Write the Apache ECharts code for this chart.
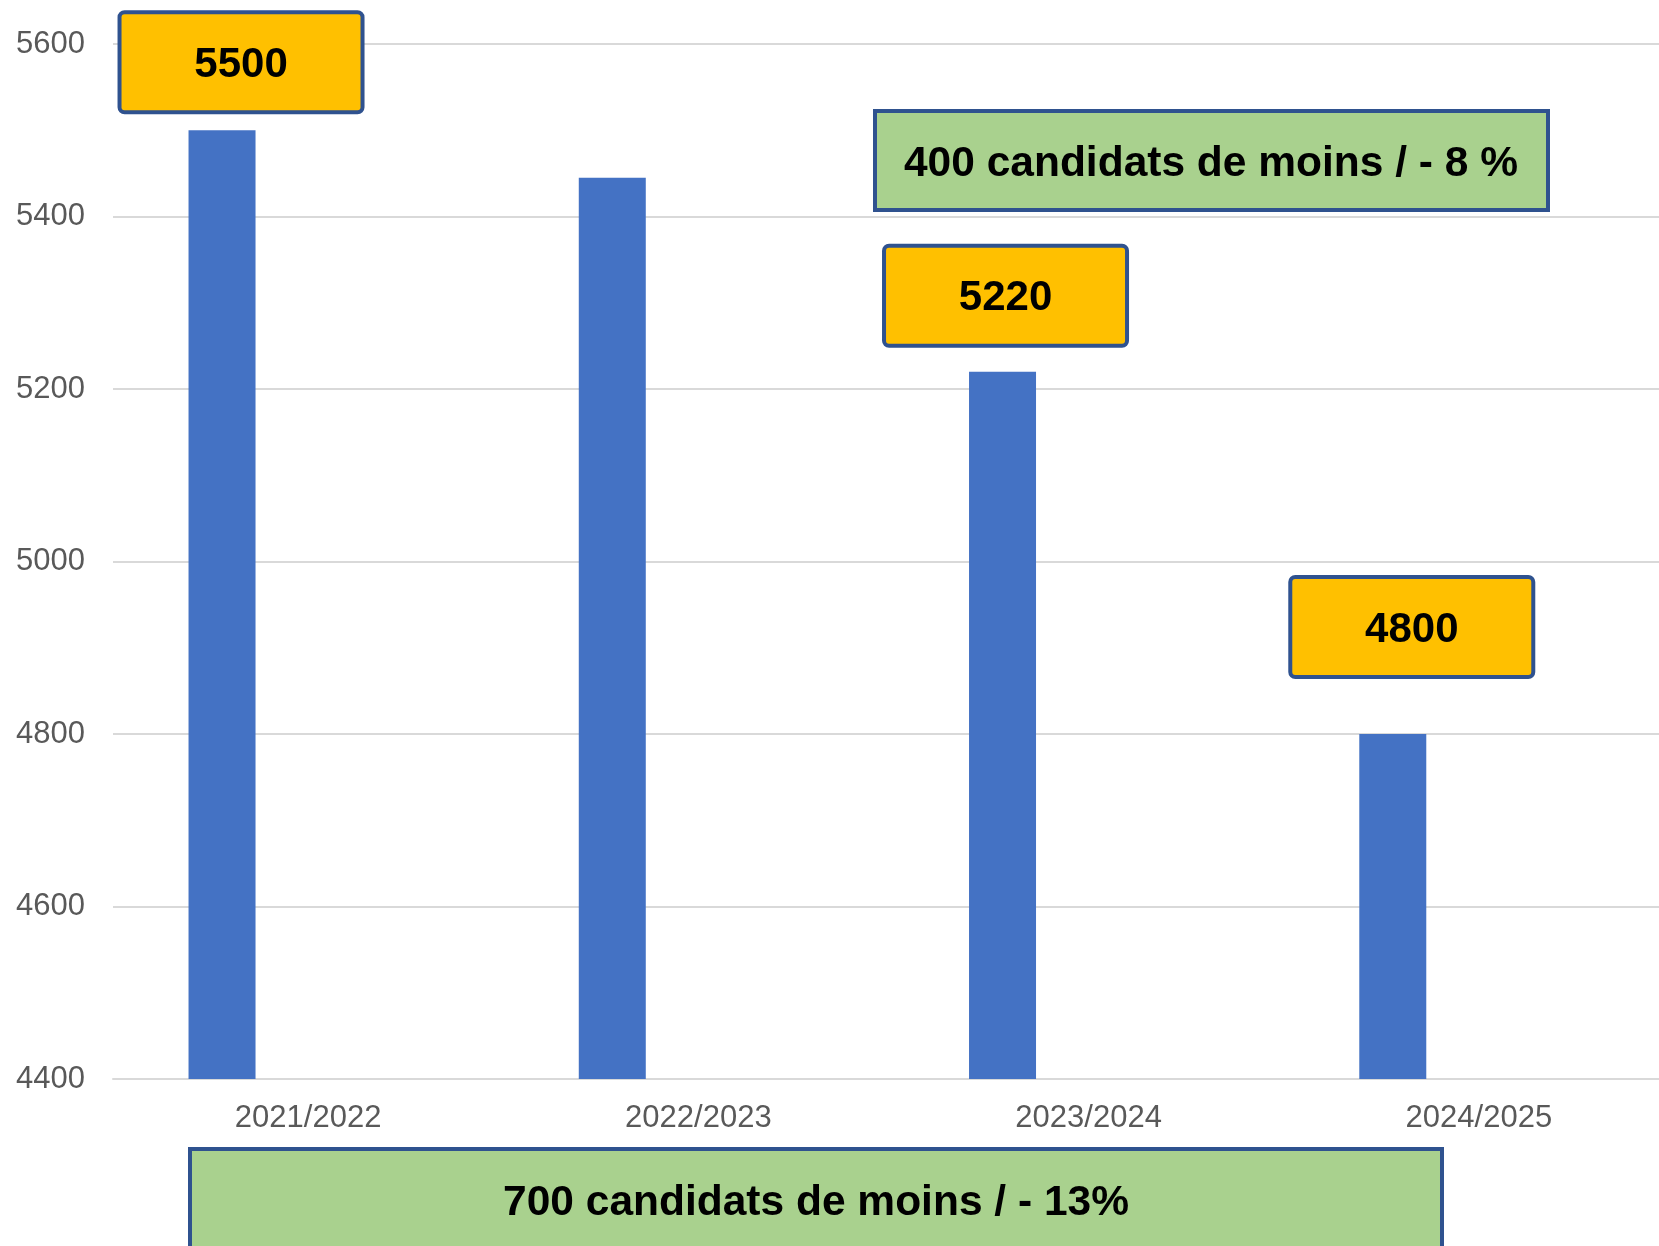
<!DOCTYPE html>
<html>
<head>
<meta charset="utf-8">
<script src="https://cdn.jsdelivr.net/npm/echarts@6/dist/echarts.min.js"></script>
<style>
html,body{margin:0;padding:0;background:#fff;}
#chart1{width:1659px;height:1246px;}
</style>
</head>
<body>
<div id="chart1"></div>
<script>
// données
var categories = ["2021/2022", "2022/2023", "2023/2024", "2024/2025"];
var candidats = [5500, 5445, 5220, 4800];
var yMin = 4400, yMax = 5600, yStep = 200;
var noteTop = "400 candidats de moins / - 8 %";
var noteBottom = "700 candidats de moins / - 13%";

// étiquettes jaunes : [décalage x, distance au-dessus de la barre], null = pas d'étiquette
var labelPos = [[19, 20], null, [3, 28], [19, 59]];

var barData = candidats.map(function (v, i) {
    var p = labelPos[i];
    if (!p) return { value: v, label: { show: false } };
    return { value: v, label: { show: true, offset: [p[0], 0], distance: p[1] } };
});

var font = '"Liberation Sans", Arial, sans-serif';

var chart1 = echarts.init(document.getElementById("chart1"));
option = {
    animation: false,
    grid: {
        left: 113,
        right: -15,
        top: 44,
        bottom: 167,
        outerBoundsMode: 'none'
    },
    xAxis: [{
        type: 'category',
        data: categories,
        axisLine: { show: true, lineStyle: { color: '#d9d9d9', width: 2 } },
        axisTick: { show: false },
        axisLabel: {
            color: '#595959',
            fontSize: 31,
            fontFamily: font,
            margin: 24
        }
    }],
    yAxis: [{
        type: 'value',
        min: yMin,
        max: yMax,
        interval: yStep,
        axisLine: { show: false },
        axisTick: { show: false },
        axisLabel: {
            color: '#595959',
            fontSize: 31,
            fontFamily: font,
            margin: 28,
            padding: [4, 0, 0, 0],
            formatter: function (v) { return String(v); }
        },
        splitLine: { lineStyle: { color: '#d9d9d9', width: 2 } }
    }],
    series: [{
        name: 'Candidats',
        type: 'bar',
        barWidth: 67,
        barGap: '157%',
        itemStyle: { color: '#4472C4' },
        label: {
            show: true,
            position: 'top',
            formatter: '{c}',
            color: '#000',
            fontSize: 42,
            fontWeight: 'bold',
            fontFamily: font,
            backgroundColor: '#FFC000',
            borderColor: '#2F528F',
            borderWidth: 4,
            borderRadius: 3,
            width: 239,
            height: 90,
            lineHeight: 90,
            align: 'center',
            padding: [6, 0, 0, 0]
        },
        data: barData
    }, {
        name: 'vide',
        type: 'bar',
        barWidth: 67,
        data: categories.map(function () { return '-'; })
    }],
    graphic: [{
        type: 'group',
        left: 873,
        top: 109,
        children: [{
            type: 'rect',
            shape: { x: 2, y: 2, width: 673, height: 99 },
            style: { fill: '#A9D18E', stroke: '#2F528F', lineWidth: 4 }
        }, {
            type: 'text',
            x: 338,
            y: 55,
            style: {
                text: noteTop,
                font: 'bold 42.5px ' + font,
                fill: '#000',
                align: 'center',
                verticalAlign: 'middle'
            }
        }]
    }, {
        type: 'group',
        left: 188,
        top: 1147,
        children: [{
            type: 'rect',
            shape: { x: 2, y: 2, width: 1252, height: 100 },
            style: { fill: '#A9D18E', stroke: '#2F528F', lineWidth: 4 }
        }, {
            type: 'text',
            x: 628,
            y: 56,
            style: {
                text: noteBottom,
                font: 'bold 42.5px ' + font,
                fill: '#000',
                align: 'center',
                verticalAlign: 'middle'
            }
        }]
    }]
};
chart1.setOption(option);
</script>
</body>
</html>
